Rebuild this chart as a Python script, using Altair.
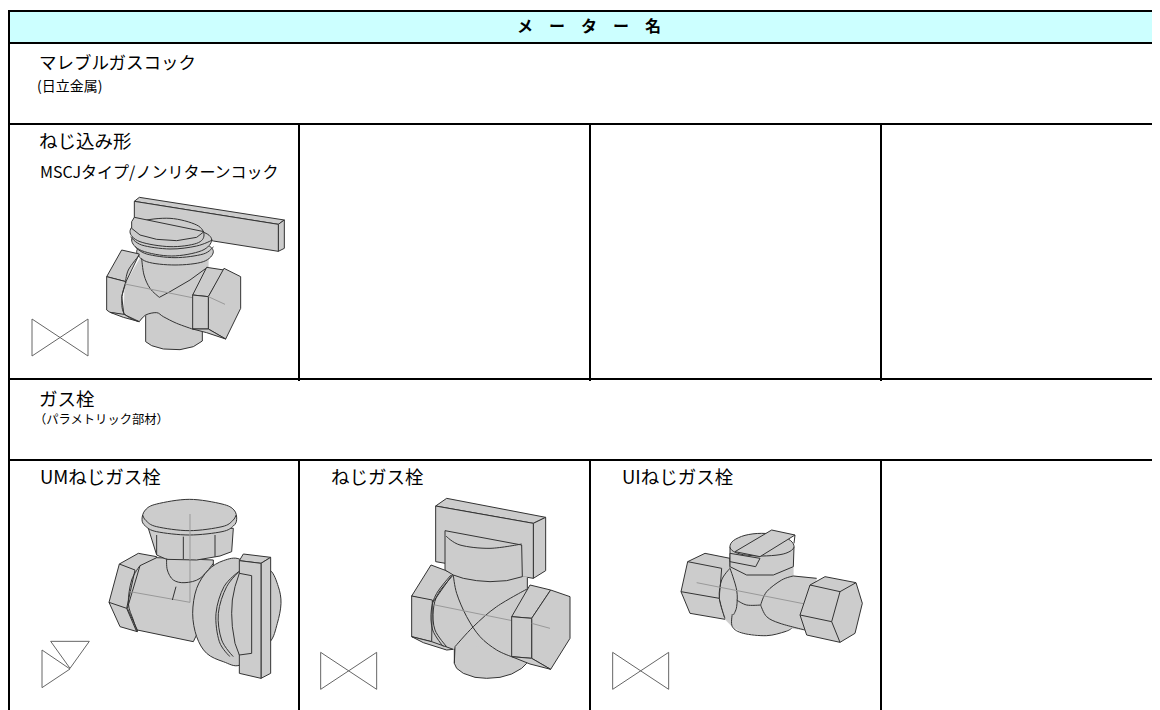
import altair as alt
import pandas as pd

# page-pixel coordinate system; the svg begins at page (8, 8)
RIGHT, BOTTOM = 1152, 710
HEADER_FILL = "#ccffff"
BODY_FILL = "#cccccc"
INK = "#333333"
THIN = "#999999"

# -- table rules: (x1, y1, x2, y2)
RULES = [
    (8, 11, RIGHT, 11), (8, 43, RIGHT, 43), (8, 124, RIGHT, 124),
    (8, 379, RIGHT, 379), (8, 460, RIGHT, 460),
    (9, 10, 9, 710),
    (299, 124, 299, 381), (590, 124, 590, 381), (881, 124, 881, 381),
    (299, 460, 299, 710), (590, 460, 590, 710), (881, 460, 881, 710),
]

# -- texts: (x, y, text, size, weight)
TEXTS = [
    (589, 27, "メ　ー　タ　ー　名", 16, "bold", "center"),
    (39, 64, "マレブルガスコック", 17.5, "normal", "left"),
    (37, 87, "(日立金属)", 14, "normal", "left"),
    (39, 142, "ねじ込み形", 18.5, "normal", "left"),
    (40, 173, "MSCJタイプ/ノンリターンコック", 16, "normal", "left"),
    (39, 400, "ガス栓", 18.5, "normal", "left"),
    (34, 420, "（パラメトリック部材）", 12.3, "normal", "left"),
    (40, 478, "UMねじガス栓", 18.5, "normal", "left"),
    (331, 478, "ねじガス栓", 18.5, "normal", "left"),
    (622, 478, "UIねじガス栓", 18.5, "normal", "left"),
]

# -- drawings: each group has an origin; points were read from 3x crops
# kinds: P filled polygon, F fill only, E filled smooth closed, L line, C smooth line, T thin line, W open polygon
VALVE_A = (0, 180, [
    ("P", [(403,64),(418,52),(853,120),(835,133)]),
    ("P", [(835,133),(853,120),(853,205),(835,214)]),
    ("P", [(403,64),(835,133),(835,214),(640,183),(403,120)]),
    ("P", [(437,395),(607,395),(607,483),(580,500),(540,509),(490,507),(455,497),(437,485)]),
    ("F", [(375,312),(420,235),(625,235),(625,265),(650,300),(600,445),(530,430),(490,410),(470,398),(437,405),(418,425),(370,400)]),
    ("E", [(410,215),(440,245),(525,255),(610,245),(640,215),(610,190),(525,180),(440,190)]),
    ("E", [(395,180),(425,212),(515,228),(605,212),(635,180),(605,155),(515,145),(425,155)]),
    ("E", [(390,155),(420,185),(510,200),(590,190),(612,165),(590,135),(510,115),(420,125)]),
    ("C", [(392,170),(425,195),(510,207),(590,198),(637,180)]),
    ("C", [(405,200),(440,222),(525,233),(610,222),(640,200)]),
    ("P", [(403,112),(612,155),(590,172),(530,182),(470,178),(420,165),(395,145),(395,125)]),
    ("C", [(425,235),(432,285),(450,325),(478,352)]),
    ("L", [(478,352),(510,335),(570,300),(622,262)]),
    ("C", [(418,425),(437,405),(470,398),(490,410),(530,430),(580,448)]),
    ("P", [(320,290),(365,210),(418,222),(378,305)]),
    ("P", [(320,290),(378,305),(365,350),(372,405),(330,397),(320,390)]),
    ("P", [(330,397),(372,403),(418,425),(370,412)]),
    ("C", [(378,305),(366,350),(372,400),(415,425)]),
    ("C", [(418,225),(385,270),(376,310)]),
    ("T", [(375,312),(675,373)]),
    ("P", [(578,345),(620,262),(672,270),(625,350)]),
    ("P", [(625,350),(672,265),(722,290),(722,385),(677,477),(625,447)]),
    ("P", [(578,345),(625,350),(625,447),(578,447)]),
    ("P", [(578,447),(625,447),(677,477),(620,458)]),
    ("T", [(625,350),(675,373)]),
    ("W", [(96,417),(264,528),(264,417),(96,528)]),
])

VALVE_B = (0, 400, [
    ("E", [(760,500),(810,510),(835,560),(843,610),(832,670),(810,725),(760,740),(740,620)]),
    ("P", [(327,607),(358,492),(415,460),(470,470),(412,695),(360,680)]),
    ("L", [(358,492),(405,510),(380,625),(327,607)]),
    ("L", [(380,625),(410,695)]),
    ("P", [(420,497),(470,473),(640,480),(640,600),(580,725),(412,690),(382,625)]),
    ("C", [(420,497),(395,540),(385,610),(400,660),(412,695)]),
    ("T", [(390,575),(570,607),(570,342)]),
    ("L", [(528,560),(517,600)]),
    ("P", [(445,385),(700,385),(695,455),(660,468),(590,480),(500,478),(470,465)]),
    ("L", [(470,405),(470,465)]),
    ("L", [(550,410),(550,477)]),
    ("L", [(645,405),(645,470)]),
    ("C", [(500,475),(502,510),(520,540),(555,548),(600,535),(640,490)]),
    ("E", [(426,358),(436,378),(470,395),(568,405),(666,395),(700,378),(710,358),(702,330),(666,312),(568,298),(470,312),(436,330)]),
    ("C", [(428,345),(438,362),(470,380),(568,392),(666,380),(698,362),(708,345)]),
    ("T", [(570,342),(570,480)]),
    ("E", [(578,640),(590,565),(625,510),(670,482),(720,478),(770,530),(790,640),(770,740),(720,795),(670,785),(620,760),(590,710)]),
    ("C", [(722,510),(680,560),(655,640),(665,720),(700,770)]),
    ("C", [(716,515),(672,560),(648,640),(658,725),(690,770)]),
    ("P", [(718,482),(730,462),(812,472),(783,490)]),
    ("P", [(783,490),(812,472),(812,820),(783,835)]),
    ("P", [(718,482),(783,490),(783,835),(718,820)]),
    ("P", [(718,520),(755,527),(755,760),(718,765),(705,730),(697,680),(695,640),(697,600),(705,560)]),
    ("W", [(152,724),(268,724),(210,805)]),
    ("W", [(126,750),(210,807),(126,863)]),
])

VALVE_C = (290, 460, [
    ("P", [(437,138),(470,115),(767,172),(730,190)]),
    ("P", [(730,190),(767,172),(767,332),(730,355)]),
    ("P", [(437,138),(730,190),(730,355),(437,305)]),
    ("P", [(493,400),(710,400),(710,610),(695,625),(665,642),(630,652),(590,655),(555,652),(520,640),(500,625),(493,610)]),
    ("F", [(490,340),(712,350),(712,470),(665,590),(570,560),(495,565),(470,570),(425,545),(425,430)]),
    ("L", [(495,560),(493,610)]),
    ("L", [(712,352),(712,385)]),
    ("P", [(365,408),(423,315),(490,340),(430,425)]),
    ("P", [(365,408),(427,420),(425,545),(365,530)]),
    ("P", [(365,530),(425,545),(490,568),(470,570),(400,548)]),
    ("C", [(490,345),(445,400),(430,450),(435,510),(470,560)]),
    ("C", [(483,345),(440,400),(424,450),(428,510),(460,560)]),
    ("C", [(490,345),(500,400),(530,470),(570,530),(620,570),(665,590)]),
    ("C", [(495,560),(550,500),(620,440),(715,385)]),
    ("T", [(435,435),(780,505)]),
    ("P", [(465,212),(695,255),(697,350),(650,362),(600,365),(560,362),(520,355),(490,345),(465,330)]),
    ("C", [(468,228),(510,255),(600,265),(695,252)]),
    ("P", [(665,470),(720,375),(782,390),(725,475)]),
    ("P", [(725,475),(782,390),(840,410),(840,535),(782,628),(725,595)]),
    ("P", [(665,470),(725,475),(725,595),(665,590)]),
    ("P", [(665,590),(725,595),(782,628),(720,612)]),
    ("T", [(725,490),(780,505)]),
    ("W", [(92,577),(260,688),(260,577),(92,688)]),
])

VALVE_D = (590, 460, [
    ("P", [(273,395),(293,305),(345,280),(420,295),(420,320),(405,478),(300,460)]),
    ("L", [(293,305),(395,325),(388,415),(273,395)]),
    ("L", [(388,415),(405,478)]),
    ("F", [(425,320),(610,320),(610,348),(680,355),(645,510),(600,505),(585,515),(530,527),(460,520),(427,500),(405,478),(390,415),(400,335)]),
    ("C", [(420,325),(395,360),(388,415),(405,475)]),
    ("C", [(420,325),(440,390),(440,440),(430,465)]),
    ("C", [(440,420),(470,435),(512,435)]),
    ("C", [(512,435),(530,395),(575,360),(610,348)]),
    ("L", [(610,348),(680,355)]),
    ("C", [(512,435),(530,470),(570,490),(645,510)]),
    ("C", [(427,462),(427,500),(460,520),(530,527),(585,515),(605,505)]),
    ("T", [(320,368),(772,457)]),
    ("P", [(420,260),(612,260),(610,320),(550,345),(470,345),(420,320)]),
    ("E", [(420,260),(430,242),(465,226),(515,220),(570,226),(602,242),(612,260),(600,274),(570,284),(515,288),(460,284),(430,274)]),
    ("P", [(435,275),(545,210),(615,225),(510,290)]),
    ("P", [(420,280),(510,295),(497,320),(420,305)]),
    ("L", [(615,225),(612,250)]),
    ("P", [(630,465),(660,375),(705,350),(798,368),(817,430),(795,520),(750,547),(650,525)]),
    ("L", [(660,375),(750,395),(725,485),(630,465)]),
    ("L", [(798,368),(750,395)]),
    ("L", [(725,485),(750,547)]),
    ("W", [(68,577),(236,688),(236,577),(68,688)]),
])

DRAWINGS = [VALVE_A, VALVE_B, VALVE_C, VALVE_D]

X = alt.X("x:Q", scale=alt.Scale(domain=[8, RIGHT], range=[0, RIGHT - 8], nice=False, zero=False), axis=None)
Y = alt.Y("y:Q", scale=alt.Scale(domain=[8, BOTTOM], range=[0, BOTTOM - 8], nice=False, zero=False), axis=None)
X2 = alt.X2("x2:Q")
Y2 = alt.Y2("y2:Q")

layers = []

# header band
layers.append(
    alt.Chart(pd.DataFrame([{"x": 8, "x2": RIGHT, "y": 11, "y2": 43}]))
    .mark_rect(fill=HEADER_FILL).encode(x=X, x2=X2, y=Y, y2=Y2)
)

STYLES = {
    "P": dict(interpolate="linear-closed", fill=BODY_FILL, stroke=INK, strokeWidth=1),
    "F": dict(interpolate="linear-closed", fill=BODY_FILL, stroke=BODY_FILL, strokeWidth=0.5),
    "E": dict(interpolate="cardinal-closed", fill=BODY_FILL, stroke=INK, strokeWidth=1),
    "L": dict(interpolate="linear", stroke=INK, strokeWidth=1),
    "C": dict(interpolate="cardinal", stroke=INK, strokeWidth=1),
    "T": dict(interpolate="linear", stroke=THIN, strokeWidth=1),
    "W": dict(interpolate="linear-closed", stroke="#666666", strokeWidth=1),
}

for ox, oy, shapes in DRAWINGS:
    for kind, pts in shapes:
        df = pd.DataFrame(
            {"x": [ox + p[0] / 3 for p in pts], "y": [oy + p[1] / 3 for p in pts], "i": range(len(pts))}
        )
        layers.append(
            alt.Chart(df).mark_line(**STYLES[kind]).encode(x=X, y=Y, order=alt.Order("i:Q"))
        )

# table rules
rules_df = pd.DataFrame(RULES, columns=["x", "y", "x2", "y2"])
layers.append(
    alt.Chart(rules_df).mark_rule(color="black", strokeWidth=2).encode(x=X, y=Y, x2=X2, y2=Y2)
)

# text
for tx, ty, label, size, weight, align in TEXTS:
    layers.append(
        alt.Chart(pd.DataFrame([{"x": tx, "y": ty, "t": label}]))
        .mark_text(font="Noto Sans CJK JP", fontSize=size, fontWeight=weight, align=align,
                   baseline="middle", color="black")
        .encode(x=X, y=Y, text="t:N")
    )

chart = (
    alt.layer(*layers)
    .properties(width=RIGHT - 8, height=BOTTOM - 8, padding=0, background="white",
                autosize=alt.AutoSizeParams(type="none"))
    .configure_view(stroke=None)
)
chart.save("out.html", embed_options={"renderer": "svg", "actions": False})
